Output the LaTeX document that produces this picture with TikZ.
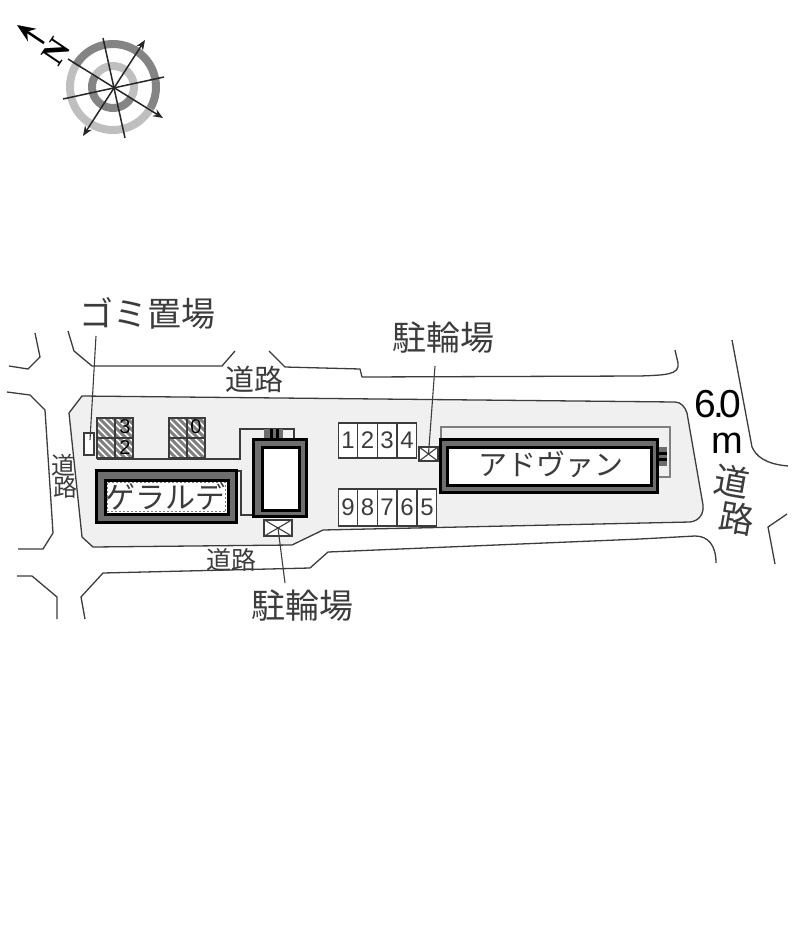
\documentclass[tikz,border=0pt]{standalone}
\usepackage{fontspec}
\newfontfamily\jpfont{Noto Sans CJK JP}
\newfontfamily\northfont{Liberation Serif}
\setmainfont{Liberation Sans}
\usetikzlibrary{arrows.meta}
\definecolor{sitegray}{HTML}{F0F0F0}
\definecolor{wallgray}{HTML}{6E6E6E}
\definecolor{linegray}{HTML}{3C3C3C}
\tikzset{
	roadline/.style={draw=linegray,line width=1.3pt,line join=round},
	thinline/.style={draw=linegray,line width=1.1pt},
	slot/.style={draw=linegray,line width=1.1pt,fill=white,inner sep=0pt,minimum height=35pt,font=\fontsize{24}{24}\selectfont,text=linegray},
	hatched/.style={draw=linegray,line width=1.5pt},
	bikebox/.style={draw=linegray,line width=1.1pt,fill=white,inner sep=0pt},
	jplabel/.style={font=\jpfont\fontsize{#1}{#1}\selectfont,text=linegray,inner sep=0pt},
	wall/.style={draw=black,line width=3pt,fill=wallgray},
	room/.style={draw=black,line width=3pt,fill=white},
}
\begin{document}
\begin{tikzpicture}[x=1pt,y=-1pt]
	\useasboundingbox (0,0) rectangle (800,940);

	% compass
	\coordinate (C) at (113,87);
	\begin{scope}[shift={(C)},y=1pt,line width=8pt]
		\draw[wallgray!85] (150:43) arc[start angle=150,end angle=-30,radius=43];
		\draw[gray!50] (-30:43) arc[start angle=-30,end angle=-210,radius=43];
		\draw[gray!50] (150:21) arc[start angle=150,end angle=-30,radius=21];
		\draw[wallgray!85] (-30:21) arc[start angle=-30,end angle=-210,radius=21];
	\end{scope}
	\begin{scope}[line width=1.5pt,draw=black!85,>={Stealth[length=10pt,width=8pt]}]
		\draw[->] (68,59) -- (C) -- (163,118);
		\draw[<->] (145,40) -- (83,136);
		\draw (103,38) -- (125,138);
		\draw (63,99) -- (164,77);
	\end{scope}
	\coordinate (Ntail) at (44,43);
	\coordinate (Ntip) at (17,25);
	\draw[-{Stealth[length=18pt,width=15pt]},line width=2.5pt] (Ntail) -- (Ntip);
	\node[rotate=56,font=\northfont\bfseries\fontsize{33}{33}\selectfont,inner sep=0pt] (north) at (56,52) {N};

	% roads
	\draw[roadline] (35,333) -- (40,357) -- (28,369) -- (9,366);
	\draw[roadline] (7,392) -- (30,395) -- (45,410) -- (53,533) -- (43,549) -- (18,549);
	\draw[roadline] (17,576) -- (32,576) -- (57,597) -- (57,619);
	\draw[roadline] (68,331) -- (74,351) -- (92,366) -- (222,366) -- (235,351);
	\draw[roadline] (269,351) -- (285,367) -- (360,369) -- (362,377) -- (640,376) .. controls (665,375) and (680,375) .. (678,363) -- (675,350);
	\draw[roadline] (85,619) -- (81,597) -- (103,573) -- (310,568) -- (328,552) -- (640,539) -- (695,536) .. controls (708,536) and (716,545) .. (716,563);
	\draw[roadline] (732,340) -- (752,447) .. controls (756,456) and (765,464) .. (788,466);
	\draw[roadline] (787,514) -- (768,527) -- (775,564);

	% site
	\draw[roadline,fill=sitegray] (82,396) -- (69,413) -- (82,537) -- (93,547) -- (292,545) -- (323,530) -- (690,522) .. controls (699,521) and (704,514) .. (703,505) -- (687,413) .. controls (685,407) and (681,402) .. (675,402) -- cycle;

	% frames behind the buildings
	\draw[thinline,line width=1.4pt] (97,459) -- (240,459) -- (240,429) -- (294,429) -- (294,440);
	\draw[thinline] (237,471) -- (241,471) -- (241,515) -- (252,515);
	\draw[thinline,draw=gray,line width=1.5pt] (441,427) rectangle (670,477);
	\draw[thinline,fill=white] (84,433) rectangle (94,455);
	\coordinate (trash) at (90,440);

	% parking
	\foreach \x/\y in {97/418,169/418} {
		\begin{scope}
			\clip (\x,\y) rectangle +(36,40);
			\fill[white] (\x,\y) rectangle +(36,40);
			\foreach \d in {-49,-42,...,35}
				\draw[gray,line width=3pt] (\x+\d,\y-2) -- +(48,48);
		\end{scope}
		\draw[hatched] (\x,\y) rectangle +(36,40);
		\draw[hatched] (\x+18,\y) -- +(0,40);
		\draw[hatched] (\x,\y+20) -- +(36,0);
	}
	\node[font=\fontsize{20}{20}\selectfont,text=black] (slotA) at (125,427) {3};
	\node[font=\fontsize{20}{20}\selectfont,text=black] (slotB) at (125,448) {2};
	\node[font=\fontsize{20}{20}\selectfont,text=black] (slotC) at (196,427) {0};
	\foreach \n/\x in {1/348,2/367.5,3/387,4/407}
		\node[slot,minimum width=19.5pt] (top\n) at (\x,440.5) {\n};
	\foreach \n/\x in {9/348,8/367.5,7/387,6/407,5/427}
		\node[slot,minimum height=37pt,minimum width=19.5pt] (bot\n) at (\x,507.5) {\n};

	% buildings
	\draw[wall] (96.5,470.5) rectangle (236,522);
	\draw[room] (105,480) rectangle (228,514);
	\draw[gray,line width=1pt,dash pattern=on 2pt off 2pt] (107.5,482.5) rectangle (225.5,511.5);
	\fill[wallgray] (264,429) rectangle (283,438);
	\foreach \x in {271,277} \draw[line width=3pt] (\x,429) -- (\x,438);
	\draw[wall] (253.5,439.5) rectangle (306.5,516.5);
	\draw[room] (262,447) rectangle (299,510);
	\fill[wallgray] (658,447) rectangle (667,466);
	\foreach \y in {453,459} \draw[line width=3pt] (658,\y) -- (667,\y);
	\draw[wall] (440.5,439.5) rectangle (657.5,492);
	\draw[room] (447,447) rectangle (651,485);

	% bicycle boxes
	\node[bikebox,minimum width=19pt,minimum height=14pt] (bikeA) at (428.5,454) {};
	\node[bikebox,minimum width=28pt,minimum height=16pt] (bikeB) at (278,528) {};
	\foreach \b in {bikeA,bikeB} {
		\draw[thinline] (\b.north west) -- (\b.south east);
		\draw[thinline] (\b.north east) -- (\b.south west);
	}

	% labels
	\node[jplabel=34] (trashlabel) at (147,313) {ゴミ置場};
	\node[jplabel=34] (bikelabelA) at (443,338) {駐輪場};
	\node[jplabel=34] (bikelabelB) at (302,606) {駐輪場};
	\node[jplabel=29] (roadtop) at (254,379) {道路};
	\node[jplabel=25] (roadbottom) at (231,560) {道路};
	\node[jplabel=24] (roadleftA) at (63,465) {道};
	\node[jplabel=24] (roadleftB) at (65,487) {路};
	\node[jplabel=30] (nameA) at (165,497) {ゲラルデ};
	\node[jplabel=29] (nameB) at (551,464) {アドヴァン};
	\node[font=\fontsize{39}{39}\selectfont,text=black,inner sep=0pt] (widthA) at (718,404) {6\kern-3pt.\kern-4pt0};
	\node[font=\fontsize{38}{38}\selectfont,text=black,inner sep=0pt] (widthB) at (727,443) {m};
	\node[jplabel=35,rotate=-10] (widthC) at (732,481) {道};
	\node[jplabel=35,rotate=-10] (widthD) at (737,518) {路};

	% leaders
	\draw[thinline] (96,336) -- (trash);
	\draw[thinline] (435,366) -- (bikeA.center);
	\draw[thinline] (bikeB.center) -- (285,583);
\end{tikzpicture}
\end{document}
